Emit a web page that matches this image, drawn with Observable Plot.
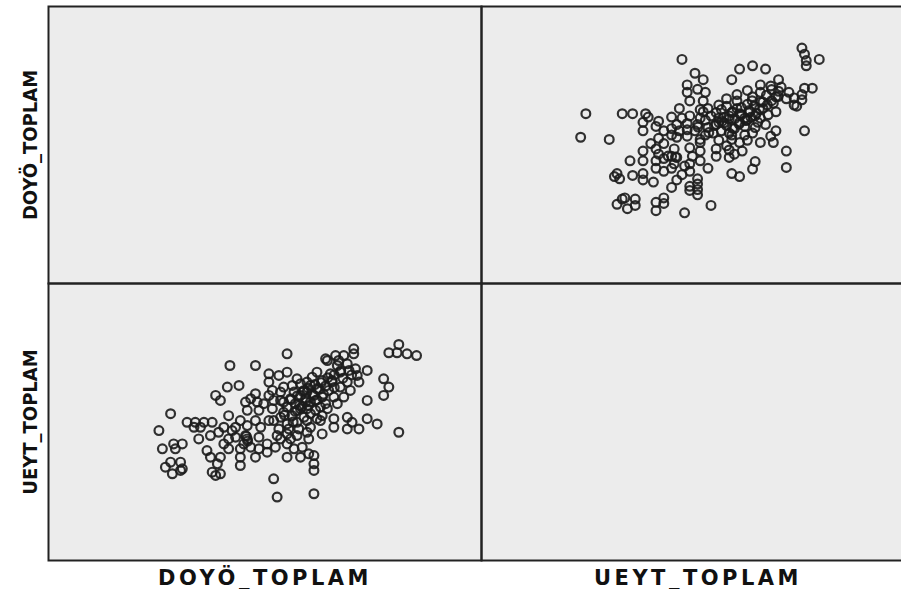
<!DOCTYPE html>
<html><head><meta charset="utf-8">
<script src="https://cdn.jsdelivr.net/npm/d3@7"></script>
<script src="https://cdn.jsdelivr.net/npm/@observablehq/plot@0.6"></script>
<style>
html,body{margin:0;padding:0;background:#fff;overflow:hidden;}
#chart svg{display:block;}
#chart g[aria-label^="fx-axis"] text{font-family:"DejaVu Sans",sans-serif;font-weight:bold;font-size:21px;letter-spacing:3.5px;fill:#111;}
#chart g[aria-label^="fy-axis"] text{font-family:"Liberation Sans Narrow","DejaVu Sans Condensed",sans-serif;font-weight:bold;font-size:20px;fill:#111;}
</style></head>
<body><div id="chart"></div>
<script>
const variables = ["DOYÖ_TOPLAM", "UEYT_TOPLAM"];
const doyo = [80.9,78.6,80.5,82.8,85.0,55.1,70.5,70.5,68.2,66.3,
64.0,41.9,47.8,69.0,66.7,70.9,73.6,67.4,65.1,62.0,
50.9,50.9,55.1,53.2,57.4,59.7,41.3,44.0,38.6,39.7,
77.4,78.6,77.4,73.6,71.7,69.0,67.4,64.7,63.2,65.9,
47.8,50.9,53.6,53.6,45.5,48.2,55.9,58.2,59.7,60.5,
62.8,28.2,41.6,45.9,48.6,51.7,54.3,57.4,59.7,61.7,
63.2,25.5,32.0,33.9,35.9,37.8,33.6,40.5,43.2,45.9,
49.0,52.0,53.2,55.1,57.4,59.7,62.8,65.9,69.0,70.1,
73.6,75.9,80.9,63.2,60.5,65.9,69.0,71.7,55.1,57.4,
37.4,34.7,41.6,45.9,48.6,50.5,52.8,55.1,26.3,28.9,
30.9,36.6,41.6,44.3,46.7,50.5,28.2,30.5,27.0,28.6,
30.9,37.4,39.7,39.0,37.8,39.7,44.3,44.3,47.8,55.1,
58.2,60.1,61.3,61.3,61.3,52.0,52.8,61.3,
54.3,56.3,58.2,60.5,62.0,56.7,59.0,61.3,52.0,54.3,
57.0,59.4,61.7,64.0,55.1,58.2,60.5,56.3,53.6,59.0,
62.0,55.5,57.8,59.7,53.6,55.9,64.4,67.0,69.4,65.5,
63.2,60.9,71.3,64.4,66.7,68.2,69.7,60.1,50.9,47.8,
44.3,49.7,46.7,51.7,45.5,40.5,43.2,56.7,58.6,52.4,
48.6,45.1,42.4,39.3,35.1,29.3,30.5,38.6,45.7,46.0,
56.0,57.5,58.8,60.0,61.5,63.0,64.5,66.0,67.5,58.0,
59.5,61.0,62.5,64.0,65.5,57.0,58.5,60.0,62.0,63.5,
66.0,68.0,70.0,56.5,54.5];
const ueyt = [78.0,75.0,75.0,74.6,74.0,74.6,76.4,74.6,74.0,74.0,
72.8,70.4,70.4,71.0,70.4,69.2,68.6,68.0,67.4,68.0,
67.4,64.4,68.0,66.8,65.6,64.4,62.6,63.2,59.6,57.8,
65.6,62.6,59.6,57.8,64.4,64.4,62.6,61.4,59.0,59.0,
60.2,59.6,60.8,57.8,57.2,57.2,58.4,59.6,60.8,57.2,
55.4,53.0,52.3,54.2,54.2,54.8,53.5,54.2,54.8,54.2,
52.3,46.9,49.9,49.9,49.9,49.9,48.1,48.1,48.1,48.7,
48.1,50.5,47.5,49.3,49.9,50.5,50.5,51.2,51.7,49.9,
51.2,49.3,46.3,45.7,48.1,48.1,47.5,47.5,45.7,45.1,
45.1,43.9,43.9,43.9,44.5,42.1,45.1,42.1,40.3,42.1,
42.1,39.7,40.3,40.3,40.9,39.1,35.5,35.5,33.7,31.3,
33.1,37.3,37.3,34.9,31.9,31.3,37.3,34.3,37.3,37.3,
37.3,38.5,37.9,34.9,32.5,29.5,22.9,24.1,
62.6,63.2,63.8,63.2,62.0,60.8,61.4,59.6,57.8,57.2,
56.6,57.2,57.8,56.6,55.4,54.8,53.0,52.3,51.7,51.7,
51.2,47.5,47.5,46.3,43.9,43.9,72.2,72.2,68.6,65.0,
65.0,66.2,66.8,54.8,56.6,59.0,61.4,43.9,50.5,50.5,
50.5,56.6,58.4,61.4,45.1,42.1,44.5,40.3,40.9,40.9,
40.3,42.1,46.9,46.3,48.1,40.3,32.5,30.7,44.8,43.1,
58.0,59.5,61.0,62.2,63.5,64.2,66.0,67.0,68.5,56.0,
58.5,60.0,61.8,63.0,64.5,53.8,55.5,56.0,58.0,60.0,
62.5,65.8,67.0,50.0,52.5];

const rows = [];
doyo.forEach((d, i) => {
  rows.push({col: variables[1], row: variables[0], xv: ueyt[i], yv: d});
  rows.push({col: variables[0], row: variables[1], xv: d, yv: ueyt[i]});
});
// diagonal cells of the matrix hold no dots, but the panels are still drawn
variables.forEach(v => rows.push({col: v, row: v, xv: NaN, yv: NaN}));

const chart = Plot.plot({
  width: 901, height: 589,
  marginLeft: 48, marginRight: -13, marginTop: 6, marginBottom: 29,
  style: {background: "#fff", overflow: "hidden"},
  facet: {data: rows, x: "col", y: "row"},
  fx: {domain: variables, padding: 0, axis: "bottom", tickSize: 0, label: null, tickPadding: 10},
  fy: {domain: variables, padding: 0, axis: "left", tickSize: 0, label: null, tickRotate: -90, tickPadding: 12},
  x: {domain: [0, 100], axis: null},
  y: {domain: [0, 100], axis: null},
  marks: [
    Plot.frame({fill: "#ececec", stroke: "none"}),
    Plot.dot(rows, {x: "xv", y: "yv", r: 4.4, stroke: "#1c1c1c", strokeWidth: 2.2, strokeOpacity: 0.9, fill: "none"}),
    Plot.frame({stroke: "#222", strokeWidth: 2})
  ]
});
document.getElementById("chart").append(chart);
</script></body></html>
